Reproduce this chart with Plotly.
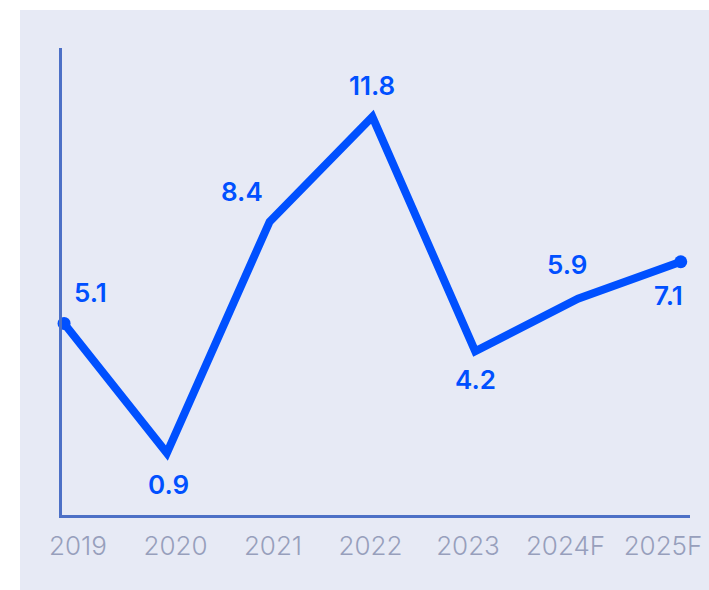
import plotly.graph_objects as go

categories = ["2019", "2020", "2021", "2022", "2023", "2024F", "2025F"]
values = [5.1, 0.9, 8.4, 11.8, 4.2, 5.9, 7.1]
labels = ["5.1", "0.9", "8.4", "11.8", "4.2", "5.9", "7.1"]

# label offsets in pixels (style)
xshifts = [26, 2, -28, 0, 0, -11, -12]
yshifts = [31, -31, 30, 31, -28, 34, -34]
marker_sizes = [13, 0, 0, 0, 0, 0, 13]

BLUE = "#0050FF"
AXIS = "#4D70C6"
BG = "#E7EAF5"
TICK = "#979FBC"

fig = go.Figure()
fig.add_trace(go.Scatter(
    x=categories, y=values, mode="lines+markers",
    line=dict(color=BLUE, width=8),
    marker=dict(color=BLUE, size=marker_sizes, opacity=1, line=dict(width=0)),
    opacity=1,
    hoverinfo="skip", showlegend=False, cliponaxis=False,
))
# invisible trace carrying the tick labels on the secondary x axis
fig.add_trace(go.Scatter(
    x=categories, y=values, xaxis="x2", mode="lines",
    line=dict(color="rgba(0,0,0,0)", width=0),
    hoverinfo="skip", showlegend=False,
))

for i, (v, t, dx, dy) in enumerate(zip(values, labels, xshifts, yshifts)):
    fig.add_annotation(
        x=i, y=v, text=t, showarrow=False, xshift=dx, yshift=dy,
        font=dict(family="Inter", size=26, color=BLUE, weight=600),
    )

fig.add_shape(type="rect", xref="paper", yref="paper",
              x0=-0.0669, x1=1.04, y0=-0.18, y1=1.0814,
              fillcolor=BG, line=dict(width=0), layer="below")

fig.update_layout(
    width=709, height=590,
    margin=dict(l=62, r=19, t=48, b=75, autoexpand=False),
    paper_bgcolor="white",
    plot_bgcolor="rgba(0,0,0,0)",
    xaxis=dict(type="category", range=[-0.02, 6.09], showline=True,
               linecolor=AXIS, linewidth=3, showgrid=False, zeroline=False,
               showticklabels=False, ticks="", automargin=False),
    xaxis2=dict(type="category", overlaying="x", side="bottom", anchor="y",
                range=[-0.164, 6.277], showline=False, showgrid=False,
                zeroline=False, ticks="", ticklabelstandoff=13, automargin=False,
                tickfont=dict(family="Inter", size=26, color=TICK, weight=300)),
    yaxis=dict(range=[-1.11, 14.03], showline=True, linecolor=AXIS,
               linewidth=3, showgrid=False, zeroline=False,
               showticklabels=False, ticks="", automargin=False),
)

fig.write_html("out.html")
